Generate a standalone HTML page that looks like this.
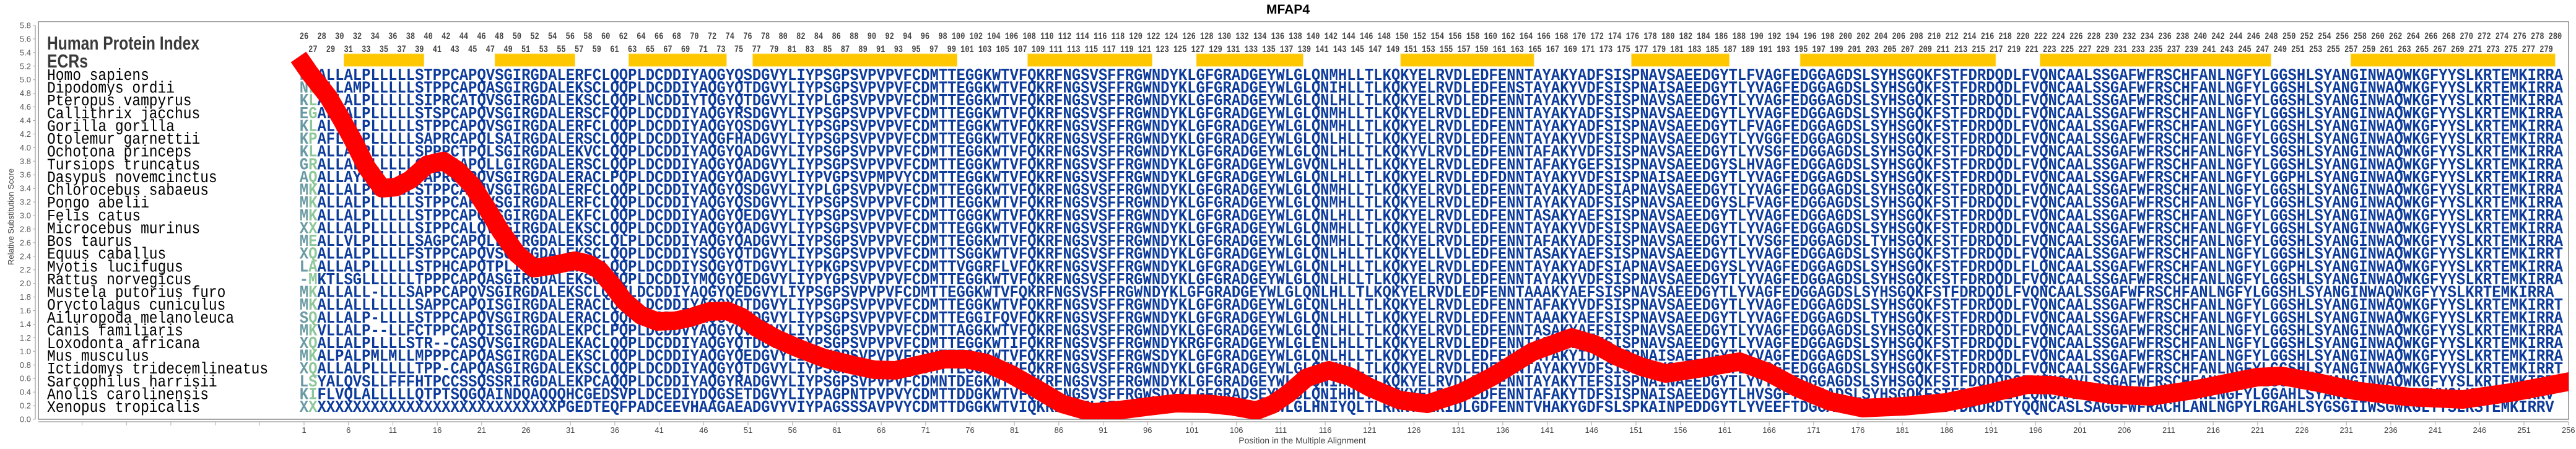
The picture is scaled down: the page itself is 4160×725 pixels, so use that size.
<!DOCTYPE html>
<html><head><meta charset="utf-8"><style>
html,body{margin:0;padding:0;background:#fff;}
svg{display:block;}
.sp{font-family:"Liberation Mono",monospace;font-size:22.9px;fill:#000;}
.sq{font-family:"Liberation Mono",monospace;font-size:23.9px;font-weight:bold;fill:#0d3b9c;}
.a{fill:#6a9aa3}.b{fill:#8ec79b}
.num{font-family:"Liberation Mono",monospace;font-size:11.95px;font-weight:bold;fill:#444;white-space:pre;}
.yt{font-family:"Liberation Sans",sans-serif;font-size:13px;fill:#555;text-anchor:end;}
.xt{font-family:"Liberation Sans",sans-serif;font-size:13px;fill:#444;text-anchor:middle;}
</style></head><body>
<svg width="4160" height="725" viewBox="0 0 4160 725" xmlns="http://www.w3.org/2000/svg">
<defs><clipPath id="c"><rect x="62" y="35" width="4086" height="642"/></clipPath></defs>
<text x="2080" y="22" font-family="Liberation Sans, sans-serif" font-weight="bold" font-size="21" text-anchor="middle">MFAP4</text>
<rect x="62" y="35" width="4086" height="642" fill="#fff" stroke="#888" stroke-width="1.5"/>
<line x1="57" y1="41" x2="57" y2="677" stroke="#aaa" stroke-width="1.5"/>
<path d="M53 677h4M53 655.1h4M53 633.1h4M53 611.2h4M53 589.3h4M53 567.3h4M53 545.4h4M53 523.5h4M53 501.5h4M53 479.6h4M53 457.7h4M53 435.7h4M53 413.8h4M53 391.9h4M53 369.9h4M53 348h4M53 326.1h4M53 304.2h4M53 282.2h4M53 260.3h4M53 238.4h4M53 216.4h4M53 194.5h4M53 172.6h4M53 150.6h4M53 128.7h4M53 106.8h4M53 84.8h4M53 62.9h4M53 41h4" stroke="#aaa"/>
<g class="yt">
<text x="50" y="681.5">0.0</text><text x="50" y="659.6">0.2</text><text x="50" y="637.6">0.4</text><text x="50" y="615.7">0.6</text><text x="50" y="593.8">0.8</text><text x="50" y="571.8">1.0</text><text x="50" y="549.9">1.2</text><text x="50" y="528">1.4</text><text x="50" y="506">1.6</text><text x="50" y="484.1">1.8</text><text x="50" y="462.2">2.0</text><text x="50" y="440.2">2.2</text><text x="50" y="418.3">2.4</text><text x="50" y="396.4">2.6</text><text x="50" y="374.4">2.8</text><text x="50" y="352.5">3.0</text><text x="50" y="330.6">3.2</text><text x="50" y="308.7">3.4</text><text x="50" y="286.7">3.6</text><text x="50" y="264.8">3.8</text><text x="50" y="242.9">4.0</text><text x="50" y="220.9">4.2</text><text x="50" y="199">4.4</text><text x="50" y="177.1">4.6</text><text x="50" y="155.1">4.8</text><text x="50" y="133.2">5.0</text><text x="50" y="111.3">5.2</text><text x="50" y="89.3">5.4</text><text x="50" y="67.4">5.6</text><text x="50" y="45.5">5.8</text>
</g>
<text transform="translate(22,350) rotate(-90)" font-family="Liberation Sans, sans-serif" font-size="13" fill="#444" text-anchor="middle">Relative Substitution Score</text>
<line x1="62" y1="681" x2="4148" y2="681" stroke="#aaa" stroke-width="1.5"/>
<path d="M132.5 681v6M204.2 681v6M275.9 681v6M347.6 681v6M419.3 681v6M491 681v6M562.7 681v6M634.4 681v6M706.1 681v6M777.8 681v6M849.5 681v6M921.2 681v6M992.9 681v6M1064.6 681v6M1136.3 681v6M1208 681v6M1279.7 681v6M1351.4 681v6M1423.1 681v6M1494.8 681v6M1566.5 681v6M1638.2 681v6M1709.9 681v6M1781.6 681v6M1853.3 681v6M1925 681v6M1996.7 681v6M2068.4 681v6M2140.1 681v6M2211.8 681v6M2283.5 681v6M2355.2 681v6M2426.9 681v6M2498.6 681v6M2570.3 681v6M2642 681v6M2713.7 681v6M2785.4 681v6M2857.1 681v6M2928.8 681v6M3000.5 681v6M3072.2 681v6M3143.9 681v6M3215.6 681v6M3287.3 681v6M3359 681v6M3430.7 681v6M3502.4 681v6M3574.1 681v6M3645.8 681v6M3717.5 681v6M3789.2 681v6M3860.9 681v6M3932.6 681v6M4004.3 681v6M4076 681v6M4147.7 681v6" stroke="#aaa"/>
<g class="xt">
<text x="491" y="699">1</text><text x="562.7" y="699">6</text><text x="634.4" y="699">11</text><text x="706.1" y="699">16</text><text x="777.8" y="699">21</text><text x="849.5" y="699">26</text><text x="921.2" y="699">31</text><text x="992.9" y="699">36</text><text x="1064.6" y="699">41</text><text x="1136.3" y="699">46</text><text x="1208" y="699">51</text><text x="1279.7" y="699">56</text><text x="1351.4" y="699">61</text><text x="1423.1" y="699">66</text><text x="1494.8" y="699">71</text><text x="1566.5" y="699">76</text><text x="1638.2" y="699">81</text><text x="1709.9" y="699">86</text><text x="1781.6" y="699">91</text><text x="1853.3" y="699">96</text><text x="1925" y="699">101</text><text x="1996.7" y="699">106</text><text x="2068.4" y="699">111</text><text x="2140.1" y="699">116</text><text x="2211.8" y="699">121</text><text x="2283.5" y="699">126</text><text x="2355.2" y="699">131</text><text x="2426.9" y="699">136</text><text x="2498.6" y="699">141</text><text x="2570.3" y="699">146</text><text x="2642" y="699">151</text><text x="2713.7" y="699">156</text><text x="2785.4" y="699">161</text><text x="2857.1" y="699">166</text><text x="2928.8" y="699">171</text><text x="3000.5" y="699">176</text><text x="3072.2" y="699">181</text><text x="3143.9" y="699">186</text><text x="3215.6" y="699">191</text><text x="3287.3" y="699">196</text><text x="3359" y="699">201</text><text x="3430.7" y="699">206</text><text x="3502.4" y="699">211</text><text x="3574.1" y="699">216</text><text x="3645.8" y="699">221</text><text x="3717.5" y="699">226</text><text x="3789.2" y="699">231</text><text x="3860.9" y="699">236</text><text x="3932.6" y="699">241</text><text x="4004.3" y="699">246</text><text x="4076" y="699">251</text><text x="4147.7" y="699">256</text>
</g>
<text x="2103" y="716" font-family="Liberation Sans, sans-serif" font-size="14" fill="#444" text-anchor="middle">Position in the Multiple Alignment</text>
<text x="76" y="80" font-family="Liberation Sans, sans-serif" font-weight="bold" font-size="31" fill="#3a3a3a" textLength="246" lengthAdjust="spacingAndGlyphs">Human Protein Index</text>
<text x="76" y="109" font-family="Liberation Sans, sans-serif" font-weight="bold" font-size="31" fill="#3a3a3a" textLength="66" lengthAdjust="spacingAndGlyphs">ECRs</text>
<g transform="scale(1,1.3)">
<text class="num" x="476.7" y="48.5" xml:space="preserve"> 26  28  30  32  34  36  38  40  42  44  46  48  50  52  54  56  58  60  62  64  66  68  70  72  74  76  78  80  82  84  86  88  90  92  94  96  98 100 102 104 106 108 110 112 114 116 118 120 122 124 126 128 130 132 134 136 138 140 142 144 146 148 150 152 154 156 158 160 162 164 166 168 170 172 174 176 178 180 182 184 186 188 190 192 194 196 198 200 202 204 206 208 210 212 214 216 218 220 222 224 226 228 230 232 234 236 238 240 242 244 246 248 250 252 254 256 258 260 262 264 266 268 270 272 274 276 278 280 </text>
<text class="num" x="491" y="64.6" xml:space="preserve"> 27  29  31  33  35  37  39  41  43  45  47  49  51  53  55  57  59  61  63  65  67  69  71  73  75  77  79  81  83  85  87  89  91  93  95  97  99 101 103 105 107 109 111 113 115 117 119 121 123 125 127 129 131 133 135 137 139 141 143 145 147 149 151 153 155 157 159 161 163 165 167 169 171 173 175 177 179 181 183 185 187 189 191 193 195 197 199 201 203 205 207 209 211 213 215 217 219 221 223 225 227 229 231 233 235 237 239 241 243 245 247 249 251 253 255 257 259 261 263 265 267 269 271 273 275 277 279 </text>
</g>
<g fill="#ffc700" stroke="#ffd84d" stroke-width="1">
<rect x="555.5" y="87" width="129.1" height="20"/><rect x="799.3" y="87" width="129.1" height="20"/><rect x="1015.4" y="87" width="157.7" height="20"/><rect x="1215.7" y="87" width="329.8" height="20"/><rect x="1659.7" y="87" width="200.8" height="20"/><rect x="1932.2" y="87" width="172.1" height="20"/><rect x="2262" y="87" width="215.1" height="20"/><rect x="2634.8" y="87" width="157.7" height="20"/><rect x="2907.3" y="87" width="315.5" height="20"/><rect x="3294.5" y="87" width="372.8" height="20"/><rect x="3796.4" y="87" width="329.8" height="20"/>
</g>
<g transform="scale(1,1.12)">
<g class="sp">
<text x="76" y="115.2">Homo sapiens</text><text x="76" y="133.6">Dipodomys ordii</text><text x="76" y="152">Pteropus vampyrus</text><text x="76" y="170.4">Callithrix jacchus</text><text x="76" y="188.8">Gorilla gorilla</text><text x="76" y="207.2">Otolemur garnettii</text><text x="76" y="225.6">Ochotona princeps</text><text x="76" y="244.1">Tursiops truncatus</text><text x="76" y="262.5">Dasypus novemcinctus</text><text x="76" y="280.9">Chlorocebus sabaeus</text><text x="76" y="299.3">Pongo abelii</text><text x="76" y="317.7">Felis catus</text><text x="76" y="336.1">Microcebus murinus</text><text x="76" y="354.5">Bos taurus</text><text x="76" y="372.9">Equus caballus</text><text x="76" y="391.3">Myotis lucifugus</text><text x="76" y="409.7">Rattus norvegicus</text><text x="76" y="428.1">Mustela putorius furo</text><text x="76" y="446.6">Oryctolagus cuniculus</text><text x="76" y="465">Ailuropoda melanoleuca</text><text x="76" y="483.4">Canis familiaris</text><text x="76" y="501.8">Loxodonta africana</text><text x="76" y="520.2">Mus musculus</text><text x="76" y="538.6">Ictidomys tridecemlineatus</text><text x="76" y="557">Sarcophilus harrisii</text><text x="76" y="575.4">Anolis carolinensis</text><text x="76" y="593.8">Xenopus tropicalis</text>
</g>
<g class="sq">
<text x="483.8" y="115.2"><tspan class="a">R</tspan><tspan class="b">Q</tspan>ALLALPLLLLLSTPPCAPQVSGIRGDALERFCLQQPLDCDDIYAQGYQSDGVYLIYPSGPSVPVPVFCDMTTEGGKWTVFQKRFNGSVSFFRGWNDYKLGFGRADGEYWLGLQNMHLLTLKQKYELRVDLEDFENNTAYAKYADFSISPNAVSAEEDGYTLFVAGFEDGGAGDSLSYHSGQKFSTFDRDQDLFVQNCAALSSGAFWFRSCHFANLNGFYLGGSHLSYANGINWAQWKGFYYSLKRTEMKIRRA</text>
<text x="483.8" y="133.6"><tspan class="a">N</tspan><tspan class="b">L</tspan>ALLAMPLLLLLSTPPCAPQASGIRGDALEKSCLQQPLDCDDIYAQGYQTDGVYLIYPSGPSVPVPVFCDMTTEGGKWTVFQKRFNGSVSFFRGWNDYKLGFGRADGEYWLGLQNIHLLTLKQKYELRVDLEDFENSTAYAKYVDFSISPNAISAEEDGYTLYVAGFEDGGAGDSLSYHSGQKFSTFDRDQDLFVQNCAALSSGAFWFRSCHFANLNGFYLGGSHLSYANGINWAQWKGFYYSLKRTEMKIRRA</text>
<text x="483.8" y="152"><tspan class="a">K</tspan><tspan class="b">L</tspan>ALLALPLLLLLSIPRCATQVSGIRGDALEKSCLQQPLNCDDIYTQGYQTDGVYLIYPLGPSVPVPVFCDMTTEGGKWTVFQKRFNGSVSFFRGWNDYKLGFGRADGEYWLGLQNLHLLTLKQKYELRVDLEDFENNTAYAKYVDFSISPNAVSAEEDGYTLYVAGFEDGGAGDSLSYHSGQKFSTFDRDQDLFVQNCAALSSGAFWFRSCHFANLNGFYLGGSHLSYANGINWAQWKGFYYSLKRTEMKIRRA</text>
<text x="483.8" y="170.4"><tspan class="a">E</tspan><tspan class="b">G</tspan>ALLALPLLLLLSTSPCAPQVSGIRGDALERSCFQQPLDCDDIYAQGYRSDGVYLIYPSGPSVPVPVFCDMTTEGGKWTVFQKRFNGSVSFFRGWNDYKLGFGRADGEYWLGLQNMHLLTLKQKYELRVDLEDFENNTAYAKYADFSISPNAVSAEEDGYTLYVAGFEDGGAGDSLSYHSGQKFSTFDRDQDLFVQNCAALSSGAFWFRSCHFANLNGFYLGGSHLSYANGINWAQWKGFYYSLKRTEMKIRRA</text>
<text x="483.8" y="188.8"><tspan class="a">K</tspan><tspan class="b">L</tspan>ALLALPLLLLLSTPPCAPQVSGIRGDALERFCLQQPLDCDDIYAQGYQSDGVYLIYPSGPSVPVPVFCDMTTEGGKWTVFQKRFNGSVSFFRGWNDYKLGFGRADGEYWLGLQNMHLLTLKQKYELRVDLEDFENNTAYAKYADFSISPNAVSAEEDGYTLFVAGFEDGGAGDSLSYHSGQKFSTFDRDQDLFVQNCAALSSGAFWFRSCHFANLNGFYLGGSHLSYANGINWAQWKGFYYSLKRTEMKIRRA</text>
<text x="483.8" y="207.2"><tspan class="a">K</tspan><tspan class="b">P</tspan>AFLALPLLLLLSAPRCAPQLSAIRGDALERSCLQQPLDCDDIYAQGFHADGVYLIYPSGPSVPVPVFCDMTTEGGKWTVFQKRFNGSVSFFRGWNDYKLGFGRADGEYWLGLQNLHLLTLKQKYELRVDLEDFENNTAYAKYVDFSISPNAVSAEEDGYTLYVGGFEDGGAGDSLSYHSGQKFSTFDRDQDLFVQNCAALSSGAFWFRSCHFANLNGFYLGGSHLSYANGINWAQWKGFYYSLKRTEMKIRRA</text>
<text x="483.8" y="225.6"><tspan class="a">K</tspan><tspan class="b">L</tspan>ALLALPLLLLLSPPPCTPQLSGIRGDALEKVCLQQPLDCDDIYAQGYQADGVYLIYPSGPSVPVPVFCDMTTEGGKWTVFQKRFNGSVSFFRGWNDYKLGFGRADGEYWLGLQNLHLLTLKQKYVLRVDLEDFENNTAFAKYVDFSISPNAVSAEEDGYTLYVSGFEDGGAGDSLSYHSGQKFSTFDRDQDLFVQNCAALSSGAFWFRSCHFANLNGFYLSGSHLSYANGINWAQWKGFYYSLKRTEMKIRRA</text>
<text x="483.8" y="244.1"><tspan class="a">G</tspan><tspan class="b">R</tspan>ALLALPLLLLLCTGPCAPQLLGIRGDALERSCLQQPLDCDDIYAQGYQADGVYLIYPSGPSVPVPVFCDMTTEGGKWTVFQKRFNGSVSFFRGWNDYKLGFGRADGEYWLGVQNLHLLTLKQKYELRVDLEDFENNTAFAKYGEFSISPNAVSAEEDGYSLHVAGFEDGGAGDSLSYHSGQKFSTFDRDQDLFVQNCAALSSGAFWFRSCHFANLNGFYLGGSHLSYANGINWAQWKGFYYSLKRTEMKIRRA</text>
<text x="483.8" y="262.5"><tspan class="a">A</tspan><tspan class="b">Q</tspan>ALLAYPLLLLLSAPRCNPQVSGIRGDALERACLPQPLDCDDIYAQGYQADGVYLIYPVGPSVPMPVYCDMTTEGGKWTVFQKRFNGSVSFFRGWNDYKLGFGRADGEYWLGLQNLHLLTLKQKYELRVDLEDFDNNTAYAKYVDFSISPNAISAEEDGYTLYVAGFEDGGAGDSLSYHSGQKFSTFDRDQDLFVQNCAALSSGAFWFRSCHFANLNGFYLGGPHLSYANGINWAQWKGFYYSLKRTEMKIRRA</text>
<text x="483.8" y="280.9"><tspan class="a">M</tspan><tspan class="b">K</tspan>ALLALPLLLLLSTPPCAPQVSGIRGDALERFCLQQPLDCDDIYAQGYQSDGVYLIYPLGPSVPVPVFCDMTTEGGKWTVFQKRFNGSVSFFRGWNDYKLGFGRADGEYWLGLQNMHLLTLKQKYELRVDLEDFENNTAYAKYADFSIAPNAVSAEEDGYTLYVAGFEDGGAGDSLSYHSGQKFSTFDRDQDLFVQNCAALSSGAFWFRSCHFANLNGFYLGGSHLSYANGINWAQWKGFYYSLKRTEMKIRRA</text>
<text x="483.8" y="299.3"><tspan class="a">M</tspan><tspan class="b">K</tspan>ALLALPLLLLLSTPPCAPQVSGIRGDALERFCLQQPLDCDDIYAQGYQSDGVYLIYPSGPSVPVPVFCDMTTEGGKWTVFQKRFNGSVSFFRGWNDYKLGFGRADGEYWLGLQNMHLLTLKQKYELRVDLEDFENNTAYAKYADFSISPNAVSAEEDGYSLFVAGFEDGGAGDSLSYHSGQKFSTFDRDQDLFVQNCAALSSGAFWFRSCHFANLNGFYLGGSHLSYANGINWAQWKGFYYSLKRTEMKIRRA</text>
<text x="483.8" y="317.7"><tspan class="a">M</tspan><tspan class="b">K</tspan>ALLALPLLLLLSTPPCAPQASGIRGDALEKFCLQQPLDCDDIYAQGYQEDGVYLIYPSGPSVPVPVFCDMTTGGGKWTVFQKRFNGSVSFFRGWNDYKLGFGRADGEYWLGLQNLHLLTLKQKYELRVDLEDFENNTASAKYAEFSISPNAVSAEEDGYTLYVAGFEDGGAGDSLSYHSGQKFSTFDRDQDLFVQNCAALSSGAFWFRSCHFANLNGFYLGGSHLSYANGINWAQWKGFYYSLKRTEMKIRRA</text>
<text x="483.8" y="336.1"><tspan class="a">X</tspan><tspan class="b">X</tspan>ALLALPLLLLLSIPPCALQVSGIRGDALEKSCLQQPLDCDDIYAQGYQADGVYLIYPSGPSVPVPVFCDMTTEGGKWTVFQKRFNGSVSFFRGWNDYKLGFGRADGEYWLGLQNMHLLTLKQKYELRVDLEDFENNTAYAKYVDFSISPNAVSAEEDGYTLYVAGFEDGGAGDSLSYHSGQKFSTFDRDQDLFVQNCAALSSGAFWFRSCHFANLNGFYLGGSHLSYANGINWAQWKGFYYSLKRTEMKIRRA</text>
<text x="483.8" y="354.5"><tspan class="a">M</tspan><tspan class="b">E</tspan>ALLVLPLLLLLSAGPCAPQLLGIRGDALEKSCLQLPLDCDDIYAQGYQADGVYLIYPSGPSVPVPVFCDMTTEGGKWTVFQKRFNGSVSFFRGWNDYKLGFGRADGEYWLGLQNMHLLTLKQKYELRVDLEDFENNTAFAKYADFSISPNAVSAEEDGYTLYVSGFEDGGAGDSLTYHSGQKFSTFDRDQDLFVQNCAALSSGAFWFRSCHFANLNGFYLGGSHLSYANGINWAQWKGFYYSLKRTEMKIRRA</text>
<text x="483.8" y="372.9"><tspan class="a">X</tspan><tspan class="b">Q</tspan>ALLALPLLLLFSTPPCAPQVSGIRGDALEKSCLQQPLDCDDIYSQGYQTDGVYLIYPSGPSVPVPVFCDMTTSGGKWTVFQKRFNGSVSFFRGWNDYKLGFGRADGEYWLGLQNLHLLTLKQKYELLVDLEDFENNTASAKYAEFSISPNAVSAEEDGYTLYVAGFEDGGAGDSLSYHSGQKFSTFDRDQDLFVQNCAALSSGAFWFRSCHFANLNGFYLGGSHLSYANGINWAQWKGFYYSLKRTEMKIRRT</text>
<text x="483.8" y="391.3"><tspan class="a">L</tspan><tspan class="b">A</tspan>ALLALPLLLLLSTPHCAPQTPLIRGDALEKSCLQQPLDCDDIYSQGYQTDGVYLIYPKGPSVPVPVFCDMTTVGGRFLVFQKRFNGSVSFFRGWNDYKLGFGRADGEYWLGLQNLHLLTLKQKYELRVDLEDFENNTAYAKYADFSIAPNAVSAEEDGYSLYVAGFEDGGAGDSLSYHSGQKFSTFDRDQDLFLQNCAALSSGAFWFRSCHFANLNGFYLGGPHLSYANGINWAQWKGFYYSLKRTEMKIRRA</text>
<text x="483.8" y="409.7"><tspan class="a">-</tspan><tspan class="b">M</tspan>KTLSGLLLLLLTPPPCAPQASGIRGDALEKSCLQQPLDCDDIYMQGYQEDGVYLIYPYGPSVPVPVFCDMTTEGGKWTVFQKRFNGSVSFFRGWNDYKLGFGRADGEYWLGLQNLHLLTLKQKYELRVDLEDFENNTAYAKYVDFSISPNAVSAEEDGYTLYVAGFEDGGAGDSLSYHSGQKFSTFDRDQDLFVQNCAALSSGAFWFRSCHFANLNGFYLGGSHLSYANGINWAQWKGFYYSLKRTEMKIRRA</text>
<text x="483.8" y="428.1"><tspan class="a">M</tspan><tspan class="b">K</tspan>ALLALL-LLLSAPPCAPQVSGIRGDALEKSCLQQPLDCDDIYAQGYQEDGVYLIYPSGPSVPVPVFCDMTTEGGKWTVFQKRFNGSVSFFRGWNDYKLGFGRADGEYWLGLQNLHLLTLKQKYELRVDLEDFENNTAAAKYAEFSISPNAVSAEEDGYTLYVAGFEDGGAGDSLSYHSGQKFSTFDRDQDLFVQNCAALSSGAFWFRSCHFANLNGFYLGGSHLSYANGINWAQWKGFYYSLKRTEMKIRRA</text>
<text x="483.8" y="446.6"><tspan class="a">M</tspan><tspan class="b">K</tspan>ALLALLLLLLLSAPPCAPQISGIRGDALERACLQQPLDCDDIYAQGYQTDGVYLIYPSGPSVPVPVFCDMTTEGGKWTVFQKRFNGSVSFFRGWNDYKLGFGRADGEYWLGLQNLHLLTLKQKYELRVDLEDFENNTAFAKYVDFSISPNAVSAEEDGYTLYVAGFEDGGAGDSLSYHSGQKFSTFDRDQDLFVQNCAALSSGAFWFRSCHFANLNGFYLGGSHLSYANGINWAQWKGFYYSLKRTEMKIRRT</text>
<text x="483.8" y="465"><tspan class="a">S</tspan><tspan class="b">Q</tspan>ALLALP-LLLLSTPPCAPQVSGIRGDALERACLQQPLDCDDIYAQGYQVDGVYLIYPSGPSVPVPVFCDMTTEGGIFQVFQKRFNGSVSFFRGWNDYKLGFGRADGEYWLGLQNLHLLTLKQKYELRVDLEDFENNTAAAKYAEFSISPNAVSAEEDGYTLYVAGFEDGGAGDSLTYHSGQKFSTFDRDQDLFVQNCAALSSGAFWFRSCHFANLNGFYLGGSHLSYANGINWAQWKGFYYSLKRTEMKIRRA</text>
<text x="483.8" y="483.4"><tspan class="a">M</tspan><tspan class="b">K</tspan>VLLALP--LLFCTPPCAPQISGIRGDALEKPCLPQPLDCDDVYAQGYQVDGVYLIYPSGPSVPVPVFCDMTTAGGKWTVFQKRFNGSVSFFRGWNDYKLGFGRADGEYWLGLQNLHLLTLKQKYELRVDLEDFENNTASAKYAEFSISPNAVSAEEDGYTLYVAGFEDGGAGDSLSYHSGQKFSTFDRDQDLFVQNCAALSSGAFWFRSCHFANLNGFYLGGSHLSYANGINWAQWKGFYYSLKRTEMKIRRA</text>
<text x="483.8" y="501.8"><tspan class="a">X</tspan><tspan class="b">Q</tspan>ALLALPLLLLSTR--CASQVSGIRGDALEKACLQQPLDCDDIYAQGYQTDGVYLIYPSGPSVPVPVFCDMTTEGGKWTIFQKRFNGSVSFFRGWNDYKRGFGRADGEYWLGLENLHLLTLKQKYELRVDLEDFENNTAFAKYLEFSISPNAVSAEEDGYTLYVAGFEDGGAGDSLSYHSGQKFSTFDRDQDLFVQNCAALSSGAFWFRSCHFANLNGFYLGGSHLSYANGINWAQWKGFYYSLKRTEMKIRRA</text>
<text x="483.8" y="520.2"><tspan class="a">M</tspan><tspan class="b">K</tspan>ALPALPMLMLLMPPPCAPQASGIRGDALEKSCLQQPLDCDDIYAQGYQEDGVYLIYPVGPSVPVPVFCDMTTEGGKWTVFQKRFNGSVSFFRGWSDYKLGFGRADGEYWLGLQNLHLLTLKQKYELRVDLEDFENNTAYAKYIDFSISPNAISAEEDGYTLYVAGFEDGGAGDSLSYHSGQKFSTFDRDQDLFVQNCAALSSGAFWFRSCHFANLNGFYLGGSHLSYANGINWAQWKGFYYSLKRTEMKIRRA</text>
<text x="483.8" y="538.6"><tspan class="a">X</tspan><tspan class="b">Q</tspan>ALLALPLLLLLTPP-CAPQASGIRGDALEKSCLQQPLDCDDIYAQGYQTDGVYLIYPSGPSVPVPVFCDMTTEGGKWTVFQKRFNGSVSFFRGWNDYKLGFGRADGEYWLGLQNMHLLTLKQKYELRVDLEDFENNTAYAKYVDFSISPNAVSAEEDGYTLYVSGFEDGGAGDSLSYHSGQKFSTFDRDQDLFVQNCAALSSGAFWFRSCHFANLNGFYLGGSHLSYANGINWAQWKGFYYSLKRTEMKIRRT</text>
<text x="483.8" y="557"><tspan class="a">L</tspan><tspan class="b">S</tspan>YALQVSLLFFFHTPCCSSQSSRIRGDALEKPCAQQPLDCDDIYAQGYRADGVYLIYPSGPSVPVPVFCDMNTDEGKWTVFQKRFNGSVSFFRGWNDYKLGFGRADGEYWLGLQNIHLLTLKQKYELRVDLEDFENNTAYAKYTEFSISPNAINAEEDGYTLYVTGFEDGGAGDSLSYHSGQKFSTFDQDQDQFVQNCAVLSSGAFWFRSCHFANLNGFYLGGNHVSYANGINWAQWKGFYYSLKRTEMKIRRX</text>
<text x="483.8" y="575.4"><tspan class="a">K</tspan><tspan class="b">I</tspan>FLVQLALLLLLQTPTSQGQAINDQAQQQHCGEDSVPLDCEDIYDQGSETDGVYLIYPAGPNTPVPVYCDMTTDDGKWTVFQKRFNGSVSFFRGWSDYKLGFGRADSEYWLGLQNIHHLTLKQKYELRVDLEDFENNTAFAKYTDFSISPNAISAEEDGYTLHVSGFTDGGADSLSYHSGQKFSTFDRDQDLYLQNCAALSSGANWFRSCHISNLNGFYLGGAHLSYANGINWYQWKGFYYSLKKSEMKIRRV</text>
<text x="483.8" y="593.8"><tspan class="a">X</tspan><tspan class="b">X</tspan>XXXXXXXXXXXXXXXXXXXXXXXXXXXPGEDTEQFPADCEEVHAAGAEADGVYVIYPAGSSSAVPVYCDMTTDGGKWTVIQKRFNGTLSFFRGWTDYKLGFGRADEEYWLGLHNIYQLTLRRKYELRIDLGDFENNTVHAKYGDFSLSPKAINPEDDGYTLYVEEFTDGGADSLTYHSGNKFSTYDRDRDTYQQNCASLSAGGFWFRACHLANLNGPYLRGAHLSYGSGIIWSGWKGLYYSLKSTEMKIRRV</text>
</g>
</g>
<g clip-path="url(#c)">
<polyline fill="none" stroke="#ff0000" stroke-width="30" stroke-linejoin="round" stroke-linecap="butt" points="482,92 500,118 530,156 550,190 570,226 592,270 617,304 640,302 663,290 690,266 716,260 740,276 763,300 786,336 809,374 835,410 862,433 895,428 928,421 950,426 968,436 990,462 1008,486 1035,509 1061,519 1090,518 1114,513 1145,503 1174,502 1198,512 1220,528 1252,546 1286,561 1330,578 1379,590 1412,597 1446,598 1485,589 1525,580 1560,580 1592,586 1632,604 1671,626 1715,652 1764,666 1810,662 1857,656 1900,651 1950,652 1990,656 2029,663 2055,653 2080,636 2110,610 2146,598 2180,608 2213,626 2260,646 2305,652 2360,634 2412,607 2475,568 2538,545 2575,556 2610,575 2650,592 2690,603 2750,594 2809,584 2855,601 2902,626 2955,648 3008,659 3075,656 3141,650 3210,636 3274,621 3315,622 3353,629 3410,637 3473,640 3540,630 3605,617 3645,609 3685,607 3745,618 3804,631 3890,641 3977,645 4060,633 4160,614"/>
</g>
</svg>
</body></html>
